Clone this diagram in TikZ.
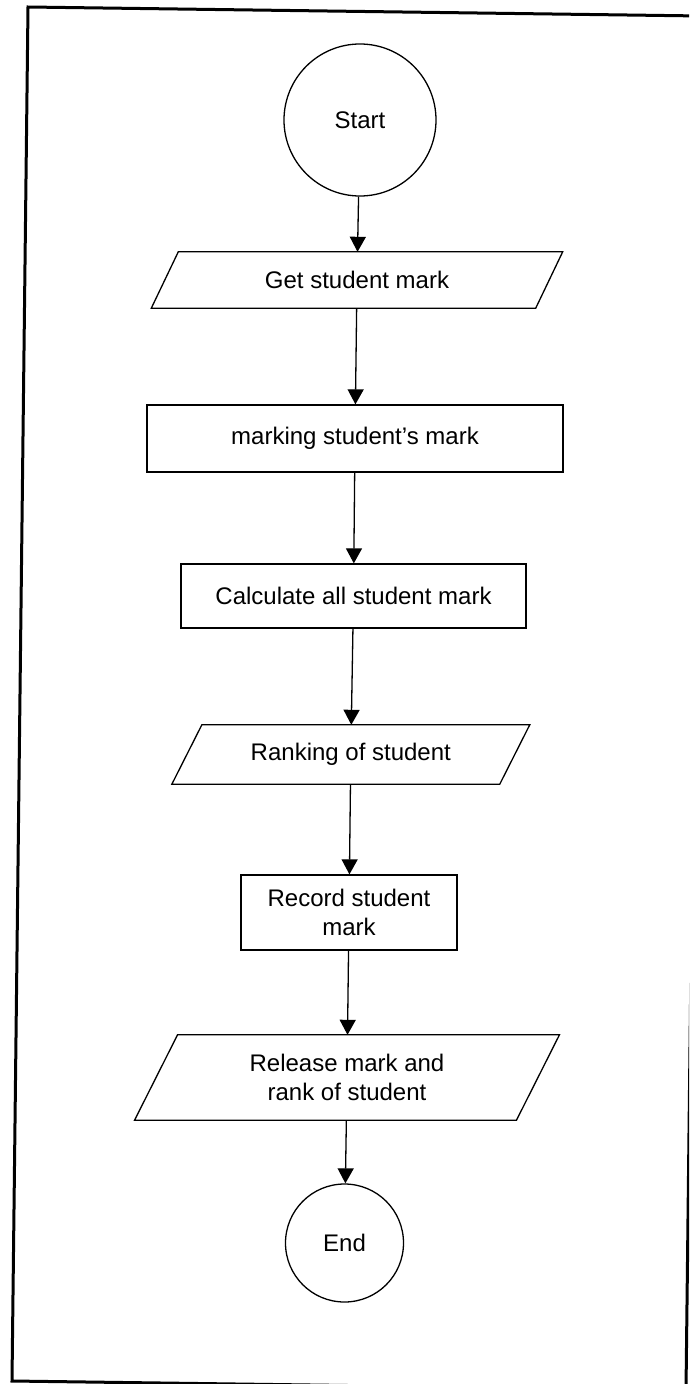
\documentclass[tikz,border=0pt]{standalone}
\usepackage{fontspec}
\setmainfont{Liberation Sans}
\usetikzlibrary{arrows.meta}
\newcommand\parallelo[2]{%
  \draw[ioline] ([xshift=#2/2]#1.north west) -- ([xshift=#2/2]#1.north east)
    -- ([xshift=-#2/2]#1.south east) -- ([xshift=-#2/2]#1.south west) -- cycle;}
\begin{document}
\begin{tikzpicture}[x=1pt,y=-1pt,
  every node/.style={font=\fontsize{24}{29}\selectfont, align=center},
  term/.style={circle, draw, line width=1.3pt, inner sep=0pt},
  procbox/.style={rectangle, draw, line width=1.3pt, inner sep=0pt},
  iobox/.style={rectangle, draw=none, inner sep=0pt},
  ioline/.style={line width=1.3pt, line join=miter},
  flow/.style={line width=1.3pt, -{Triangle[length=15pt,width=16pt]}},
  frame/.style={line width=3pt}]
\useasboundingbox (0,0) rectangle (689,1384);
\begin{scope}
  \clip (0,0) rectangle (689,1384);
  \draw[frame] (28,7) -- (702,16) -- (686,1390) -- (12,1381) -- cycle;
\end{scope}

\node[term, minimum size=152pt] (start) at (360,120) {Start};
\node[iobox, minimum width=384pt, minimum height=56pt] (get) at (357,280) {Get student mark};
\node[procbox, minimum width=416pt, minimum height=67pt] (marking) at (355,438.5) {marking student's mark};
\node[procbox, minimum width=345pt, minimum height=64pt] (calc) at (353.5,596) {Calculate all student mark};
\node[iobox, minimum width=327.5pt, minimum height=59pt] (rank) at (350.8,754.5) {Ranking of student};
\node[procbox, minimum width=216pt, minimum height=75pt] (record) at (349,912.5) {Record student\\mark};
\node[iobox, minimum width=381.5pt, minimum height=85pt] (release) at (347,1077.5) {Release mark and\\rank of student};
\node[term, minimum size=118pt] (end) at (344.5,1243) {End};

\parallelo{get}{27}
\parallelo{rank}{30}
\parallelo{release}{43}

\draw[flow] (start) -- (get);
\draw[flow] (get) -- (marking);
\draw[flow] (marking) -- (calc);
\draw[flow] (calc) -- (rank);
\draw[flow] (rank) -- (record);
\draw[flow] (record) -- (release);
\draw[flow] (release) -- (end);
\end{tikzpicture}
\end{document}
